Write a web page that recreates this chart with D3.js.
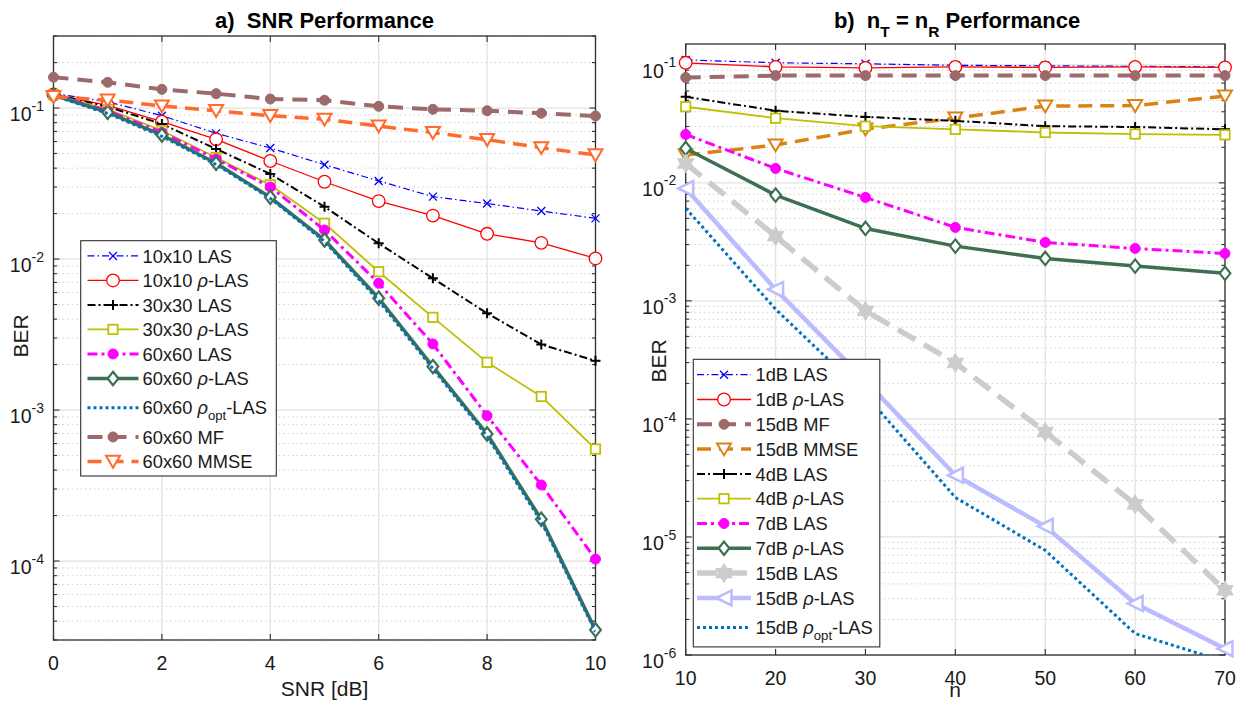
<!DOCTYPE html>
<html><head><meta charset="utf-8">
<script src="https://cdn.jsdelivr.net/npm/d3@7"></script>
<style>
body{margin:0;background:#fff;}
svg{font-family:"Liberation Sans",Arial,Helvetica,sans-serif;}
text{white-space:pre;}
</style></head><body>
<svg id="c" width="1238" height="702"></svg>
<script>
// ---------------- DATA ----------------
const snrDb = [0,1,2,3,4,5,6,7,8,9,10];
const las10  = [0.125,0.110,0.089,0.068,0.0544,0.0421,0.0329,0.0259,0.0233,0.0208,0.0186];
const rlas10 = [0.123,0.104,0.0812,0.0621,0.0446,0.0325,0.0242,0.0194,0.0147,0.0128,0.0101];
const las30  = [0.124,0.102,0.0784,0.0536,0.0366,0.0222,0.0127,0.00745,0.00437,0.00272,0.00212];
const rlas30 = [0.123,0.098,0.071,0.047,0.031,0.01725,0.00824,0.00411,0.00207,0.00123,0.000552];
const las60  = [0.123,0.096,0.069,0.046,0.030,0.01557,0.00691,0.00274,0.000917,0.000319,0.000103];
const rlas60 = [0.122,0.0937,0.0663,0.0431,0.02565,0.01337,0.0055,0.00194,0.000694,0.000189,3.5e-5];
const opt60  = [0.121,0.092,0.065,0.0423,0.0252,0.0131,0.0053,0.00188,0.00067,0.000182,3.4e-5];
const mf60   = [0.160,0.148,0.133,0.1245,0.1148,0.1126,0.1027,0.0981,0.096,0.0923,0.0886];
const mmse60 = [0.119,0.113,0.1032,0.096,0.089,0.0842,0.076,0.0687,0.0617,0.0546,0.0489];

const nAnt = [10,20,30,40,50,60,70];
const las1dB   = [0.110,0.104,0.102,0.099,0.098,0.097,0.096];
const rlas1dB  = [0.104,0.096,0.094,0.096,0.095,0.096,0.095];
const mf15dB   = [0.078,0.081,0.081,0.081,0.081,0.081,0.081];
const mmse15dB = [0.0172,0.0209,0.0285,0.0353,0.0447,0.0451,0.0543];
const las4dB   = [0.0536,0.0408,0.0362,0.0335,0.0302,0.0297,0.0284];
const rlas4dB  = [0.0441,0.0353,0.0302,0.0284,0.0267,0.0259,0.0255];
const las7dB   = [0.0257,0.01324,0.00752,0.00419,0.00313,0.00278,0.00252];
const rlas7dB  = [0.01956,0.00787,0.00411,0.00291,0.00229,0.00197,0.00171];
const las15dB  = [0.0146,0.00353,0.000823,0.000298,7.76e-5,1.89e-5,3.53e-6];
const rlas15dB = [0.00897,0.00125,0.00021,3.33e-5,1.23e-5,2.73e-6,1.13e-6];
const opt15dB  = [0.0061,0.00085,0.00016,2.16e-5,7.7e-6,1.52e-6,8.8e-7];

const xTicksA = [0,2,4,6,8,10];
const yTicksA = [1e-4,1e-3,1e-2,1e-1];
const xTicksB = [10,20,30,40,50,60,70];
const yTicksB = [1e-6,1e-5,1e-4,1e-3,1e-2,1e-1];

const namesA = ["10x10 LAS","10x10 ρ-LAS","30x30 LAS","30x30 ρ-LAS","60x60 LAS","60x60 ρ-LAS","60x60 ρopt-LAS","60x60 MF","60x60 MMSE"];
const namesB = ["1dB LAS","1dB ρ-LAS","15dB MF","15dB MMSE","4dB LAS","4dB ρ-LAS","7dB LAS","7dB ρ-LAS","15dB LAS","15dB ρ-LAS","15dB ρopt-LAS"];

// ---------------- STYLES ----------------
const ST = {
  las:   {color:"#0000FF", w:1.2, dash:"7,3,1.5,3", m:"x", ms:4, mw:1.3},
  rlas:  {color:"#FF0000", w:1.3, dash:null, m:"o", ms:6.3, mw:1.3},
  las30: {color:"#000000", w:2, dash:"8,3,2,3", m:"+", ms:5, mw:2},
  rlas30:{color:"#BFBF00", w:1.8, dash:null, m:"s", ms:4.7, mw:1.8},
  las60: {color:"#FF00FF", w:3, dash:"10,4,3,4", m:"dot", ms:5, mw:1},
  rlas60:{color:"#3D6F52", w:3.5, dash:null, m:"d", ms:6.7, mw:2.2},
  opt:   {color:"#0072BD", w:3, dash:"3,3", m:null},
  mf:    {color:"#9C6A6A", w:4, dash:"15,9", m:"dot", ms:5, mw:1},
  mmseA: {color:"#FF6A2D", w:3.5, dash:"14,8", m:"v", ms:7, mw:2},
  mmseB: {color:"#DB8214", w:3.5, dash:"14,8", m:"v", ms:7, mw:2},
  las15: {color:"#CCCCCC", w:5.5, dash:"20,10", m:"h", ms:9.5, mw:1},
  rlas15:{color:"#BBBBFF", w:4.5, dash:null, m:"<", ms:7.5, mw:2.5}
};

const svg = d3.select("#c");

function marker(g, s, cx, cy) {
  const c = s.color, r = s.ms, sw = s.mw;
  let el;
  switch (s.m) {
    case "x": el = g.append("path").attr("d",`M${cx-r},${cy-r}L${cx+r},${cy+r}M${cx-r},${cy+r}L${cx+r},${cy-r}`).attr("fill","none"); break;
    case "+": el = g.append("path").attr("d",`M${cx-r},${cy}L${cx+r},${cy}M${cx},${cy-r}L${cx},${cy+r}`).attr("fill","none"); break;
    case "o": el = g.append("circle").attr("cx",cx).attr("cy",cy).attr("r",r).attr("fill","#fff"); break;
    case "dot": el = g.append("circle").attr("cx",cx).attr("cy",cy).attr("r",r).attr("fill",c); break;
    case "s": el = g.append("rect").attr("x",cx-r).attr("y",cy-r).attr("width",2*r).attr("height",2*r).attr("fill","#fff"); break;
    case "d": el = g.append("path").attr("d",`M${cx},${cy-r}L${cx+r*0.8},${cy}L${cx},${cy+r}L${cx-r*0.8},${cy}Z`).attr("fill","#fff"); break;
    case "v": el = g.append("path").attr("d",`M${cx-r},${cy-r*0.8}L${cx+r},${cy-r*0.8}L${cx},${cy+r*0.9}Z`).attr("fill","#fff"); break;
    case "<": el = g.append("path").attr("d",`M${cx-r},${cy}L${cx+r},${cy-r}L${cx+r},${cy+r}Z`).attr("fill","#fff"); break;
    case "h": {
      const pts = d3.range(12).map(k => {
        const a = (-90 + k*30) * Math.PI/180, rr = k%2===0 ? r : r*0.58;
        return [cx + rr*Math.cos(a), cy + rr*Math.sin(a)];
      });
      el = g.append("path").attr("d","M"+pts.join("L")+"Z").attr("fill",c); break;
    }
    default: return;
  }
  el.attr("stroke",c).attr("stroke-width",sw).attr("stroke-linejoin","miter");
}

function richText(t, parts, size) {
  parts.forEach(p => {
    const ts = t.append("tspan").text(p.t);
    if (p.it) ts.attr("font-style","italic");
    if (p.sub) ts.attr("font-size", size*0.72).attr("dy", size*0.33);
    if (p.after) ts.attr("dy", -size*0.33);
  });
}
function labelParts(name) {
  const i = name.indexOf("ρ");
  if (i < 0) return [{t:name}];
  const pre = name.slice(0,i);
  if (name.indexOf("ρopt") >= 0) return [{t:pre},{t:"ρ",it:true},{t:"opt",sub:true},{t:name.slice(i+4),after:true}];
  return [{t:pre},{t:"ρ",it:true},{t:name.slice(i+1)}];
}

function panel(cfg) {
  const {x, y, xTicks, yTicks, series, id} = cfg;
  const [x0, x1] = x.range();
  const [yb, yt] = y.range();
  const g = svg.append("g");
  const [d0, d1] = y.domain();
  const minors = [];
  for (let e = Math.floor(Math.log10(d0)); e <= Math.ceil(Math.log10(d1)); e++)
    for (let m = 2; m <= 9; m++) { const v = m * Math.pow(10, e); if (v >= d0*0.999 && v <= d1*1.001) minors.push(v); }

  g.selectAll(null).data(minors).join("line")
    .attr("x1",x0).attr("x2",x1).attr("y1",d=>y(d)).attr("y2",d=>y(d))
    .attr("stroke","#cfcfcf").attr("stroke-width",1).attr("stroke-dasharray","1.5,3");
  g.selectAll(null).data(yTicks).join("line")
    .attr("x1",x0).attr("x2",x1).attr("y1",d=>y(d)).attr("y2",d=>y(d))
    .attr("stroke","#e2e2e2").attr("stroke-width",1.3);
  g.selectAll(null).data(xTicks).join("line")
    .attr("x1",d=>x(d)).attr("x2",d=>x(d)).attr("y1",yb).attr("y2",yt)
    .attr("stroke","#e2e2e2").attr("stroke-width",1.3);

  g.append("rect").attr("x",x0).attr("y",yt).attr("width",x1-x0).attr("height",yb-yt)
    .attr("fill","none").attr("stroke","#303030").attr("stroke-width",1.3);
  const tk = g.append("g").attr("stroke","#303030").attr("stroke-width",1.1);
  yTicks.forEach(v => { const yy = y(v);
    tk.append("line").attr("x1",x0).attr("x2",x0+6).attr("y1",yy).attr("y2",yy);
    tk.append("line").attr("x1",x1).attr("x2",x1-6).attr("y1",yy).attr("y2",yy); });
  minors.forEach(v => { const yy = y(v);
    tk.append("line").attr("x1",x0).attr("x2",x0+3.5).attr("y1",yy).attr("y2",yy);
    tk.append("line").attr("x1",x1).attr("x2",x1-3.5).attr("y1",yy).attr("y2",yy); });
  xTicks.forEach(v => { const xx = x(v);
    tk.append("line").attr("x1",xx).attr("x2",xx).attr("y1",yb).attr("y2",yb-6);
    tk.append("line").attr("x1",xx).attr("x2",xx).attr("y1",yt).attr("y2",yt+6); });

  yTicks.forEach(v => {
    const t = g.append("text").attr("x",x0-9.5).attr("y",y(v)+12.8).attr("text-anchor","end")
      .attr("font-size",19.5).attr("fill","#1a1a1a");
    t.append("tspan").text("10");
    t.append("tspan").attr("font-size",14).attr("dy",-10.2).text(String(Math.round(Math.log10(v))));
  });
  xTicks.forEach(v => {
    g.append("text").attr("x",x(v)).attr("y",yb+29.5).attr("text-anchor","middle")
      .attr("font-size",19.5).attr("fill","#1a1a1a").text(String(v));
  });

  svg.append("clipPath").attr("id",id).append("rect").attr("x",x0).attr("y",yt).attr("width",x1-x0).attr("height",yb-yt);
  const dg = svg.append("g");
  const line = d3.line().x(d=>x(d[0])).y(d=>y(d[1]));
  series.forEach(s => {
    const pts = s.xs.map((xv,i)=>[xv, s.ys[i]]);
    const p = dg.append("path").attr("d",line(pts)).attr("clip-path",`url(#${id})`)
      .attr("fill","none").attr("stroke",s.st.color).attr("stroke-width",s.st.w)
      .attr("stroke-linejoin","round");
    if (s.st.dash) p.attr("stroke-dasharray",s.st.dash);
    if (s.st.m) pts.forEach(d => { if (d[1] >= d0 && d[1] <= d1) marker(dg, s.st, x(d[0]), y(d[1])); });
  });
  return g;
}

function legend(cfg) {
  const {x0, y0, w, pitch, subExtra, items, lx0, lx1, tx} = cfg;
  const lg = svg.append("g");
  const rect = lg.append("rect").attr("x",x0).attr("y",y0).attr("width",w).attr("fill","#fff")
    .attr("stroke","#303030").attr("stroke-width",1.1);
  let cy = y0 + 3;
  items.forEach(it => {
    const h = pitch + (it.name.indexOf("ρopt")>=0 ? subExtra : 0);
    const yc = cy + h/2;
    const p = lg.append("line").attr("x1",lx0).attr("x2",lx1).attr("y1",yc).attr("y2",yc)
      .attr("stroke",it.st.color).attr("stroke-width",it.st.w);
    if (it.st.dash) p.attr("stroke-dasharray",it.st.dash);
    if (it.st.m) marker(lg, it.st, (lx0+lx1)/2, yc);
    const t = lg.append("text").attr("x",tx).attr("y",yc+6.6).attr("font-size",18.3).attr("fill","#1a1a1a");
    richText(t, labelParts(it.name), 18.3);
    cy += h;
  });
  rect.attr("height", cy + 2.3 - y0);
}

// ---------------- PANEL A ----------------
const xA = d3.scaleLinear().domain([0,10]).range([53.5,595.5]);
const yA = d3.scaleLog().domain([3e-5,0.3]).range([640,36]);
const seriesA = [
  {ys:las10, st:ST.las}, {ys:rlas10, st:ST.rlas}, {ys:las30, st:ST.las30}, {ys:rlas30, st:ST.rlas30},
  {ys:las60, st:ST.las60}, {ys:rlas60, st:ST.rlas60}, {ys:opt60, st:ST.opt}, {ys:mf60, st:ST.mf}, {ys:mmse60, st:ST.mmseA}
].map(s => ({...s, xs:snrDb}));
panel({x:xA, y:yA, xTicks:xTicksA, yTicks:yTicksA, series:seriesA, id:"clipA"});
legend({x0:80.7, y0:240.7, w:195.6, pitch:24.5, subExtra:9.5, lx0:87.5, lx1:138.5, tx:142.6,
  items: seriesA.map((s,i)=>({name:namesA[i], st:s.st}))});

// ---------------- PANEL B ----------------
const xB = d3.scaleLinear().domain([10,70]).range([685.7,1225]);
const yB = d3.scaleLog().domain([1e-6,0.15]).range([655,44]);
const seriesB = [
  {ys:las1dB, st:ST.las}, {ys:rlas1dB, st:ST.rlas}, {ys:mf15dB, st:ST.mf}, {ys:mmse15dB, st:ST.mmseB},
  {ys:las4dB, st:ST.las30}, {ys:rlas4dB, st:ST.rlas30}, {ys:las7dB, st:ST.las60}, {ys:rlas7dB, st:ST.rlas60},
  {ys:las15dB, st:ST.las15}, {ys:rlas15dB, st:ST.rlas15}, {ys:opt15dB, st:ST.opt}
].map(s => ({...s, xs:nAnt}));
panel({x:xB, y:yB, xTicks:xTicksB, yTicks:yTicksB, series:seriesB, id:"clipB"});
legend({x0:693.3, y0:359.3, w:186.5, pitch:24.8, subExtra:9.5, lx0:697, lx1:751, tx:755.5,
  items: seriesB.map((s,i)=>({name:namesB[i], st:s.st}))});

// ---------------- LABELS ----------------
svg.append("text").attr("x",324.5).attr("y",27.5).attr("text-anchor","middle").attr("font-size",22)
  .attr("font-weight","bold").attr("fill","#000").text("a)  SNR Performance");
{
  const t = svg.append("text").attr("x",957).attr("y",27.5).attr("text-anchor","middle").attr("font-size",22)
    .attr("font-weight","bold").attr("fill","#000");
  t.append("tspan").text("b)  n");
  t.append("tspan").attr("font-size",15.5).attr("dy",9.5).text("T");
  t.append("tspan").attr("dy",-9.5).text(" = n");
  t.append("tspan").attr("font-size",15.5).attr("dy",9.5).text("R");
  t.append("tspan").attr("dy",-9.5).text(" Performance");
}
svg.append("text").attr("x",324.5).attr("y",695.5).attr("text-anchor","middle").attr("font-size",21)
  .attr("fill","#1a1a1a").text("SNR [dB]");
svg.append("text").attr("x",955).attr("y",697).attr("text-anchor","middle").attr("font-size",21)
  .attr("fill","#1a1a1a").text("n");
svg.append("text").attr("transform","translate(27.5,336) rotate(-90)").attr("text-anchor","middle")
  .attr("font-size",21).attr("fill","#1a1a1a").text("BER");
svg.append("text").attr("transform","translate(665.5,361) rotate(-90)").attr("text-anchor","middle")
  .attr("font-size",21).attr("fill","#1a1a1a").text("BER");
</script>
</body></html>
